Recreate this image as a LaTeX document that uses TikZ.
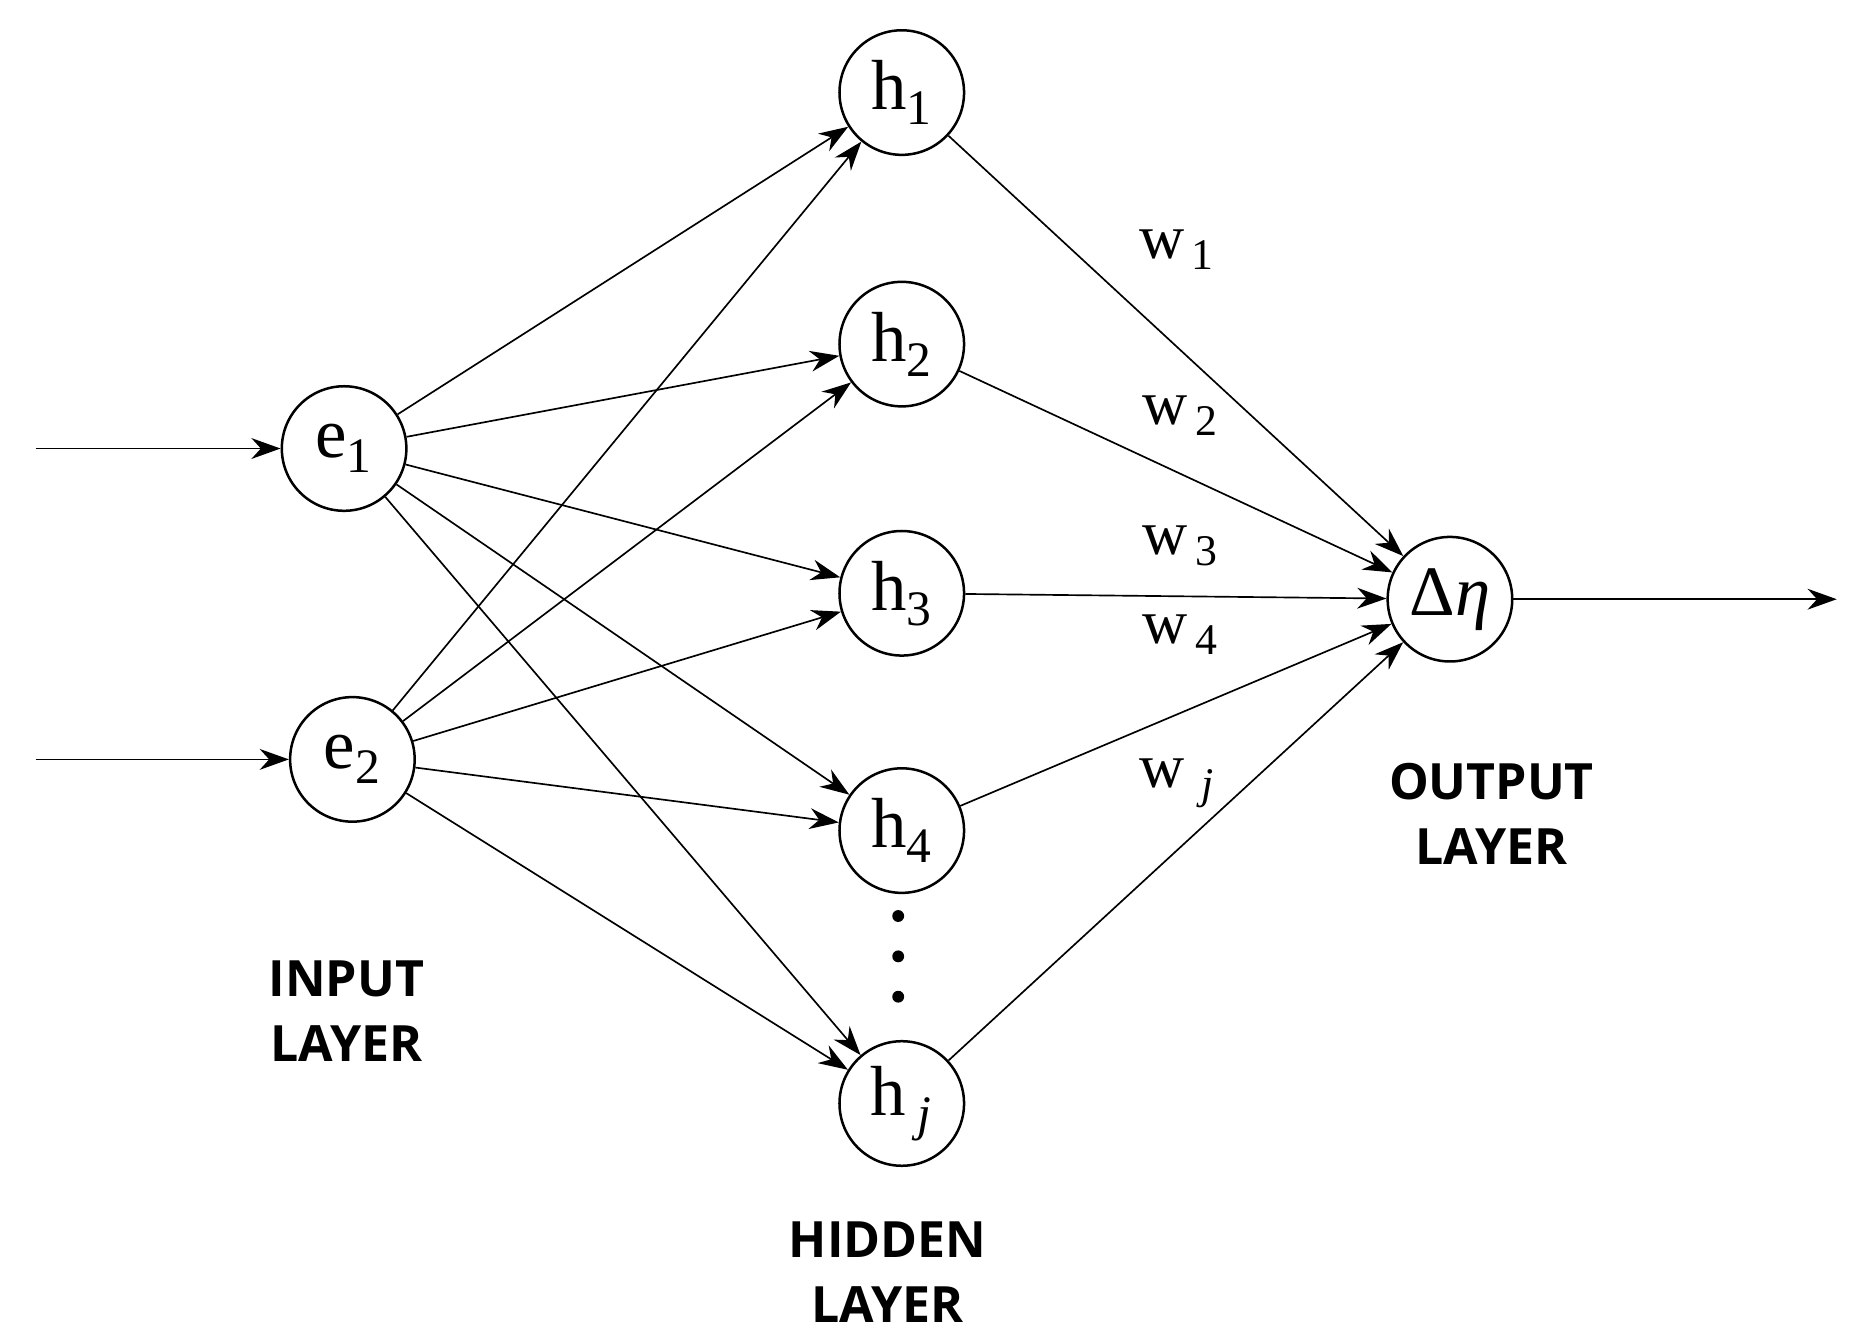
\documentclass[tikz,border=0pt]{standalone}
\usepackage{fontspec}
\setmainfont{Liberation Serif}
\newfontfamily\lbl{Open Sans}
\usetikzlibrary{arrows.meta}
\begin{document}
\begin{tikzpicture}[x=0.02cm,y=-0.02cm,
  neu/.style={circle,draw,line width=1.2pt,minimum size=2.1cm,inner sep=0pt,font=\fontsize{34}{36}\selectfont},
  con/.style={line width=0.8pt,-{Stealth[length=14pt,width=10pt]}},
  lay/.style={font=\lbl\bfseries\fontsize{24}{31}\selectfont,align=center},
  wl/.style={font=\fontsize{30}{32}\selectfont}]
\useasboundingbox (0,0) rectangle (1560,1130);
\node[neu] (e1) at (290,378) {e\textsubscript{1}};
\node[neu] (e2) at (297,640) {e\textsubscript{2}};
\node[neu] (h1) at (760,78) {h\textsubscript{1}};
\node[neu] (h2) at (760,290) {h\textsubscript{2}};
\node[neu] (h3) at (760,500) {h\textsubscript{3}};
\node[neu] (h4) at (760,700) {h\textsubscript{4}};
\node[neu] (hj) at (760,930) {h\,\textsubscript{\textit{j}}};
\node[neu] (o) at (1222,505) {Δ\textit{η}};
\coordinate (i1) at (30,378);
\coordinate (i2) at (30,640);
\coordinate (out) at (1548,505);
\draw[con] (i1) -- (e1);
\draw[con] (i2) -- (e2);
\draw[con] (o) -- (out);
\foreach \e in {e1,e2}{\foreach \h in {h1,h2,h3,h4,hj}{\draw[con] (\e) -- (\h);}}
\foreach \h in {h1,h2,h3,h4,hj}{\draw[con] (\h) -- (o);}
\foreach \y in {772,806,840}{\fill (757,\y) circle (5);}
\node[wl] at (992,210) {w\textsubscript{\,1}};
\node[wl] at (995,350) {w\textsubscript{\,2}};
\node[wl] at (995,460) {w\textsubscript{\,3}};
\node[wl] at (995,535) {w\textsubscript{\,4}};
\node[wl] at (992,660) {w\,\textsubscript{\,\textit{j}}};
\node[lay] at (292,852) {INPUT\\LAYER};
\node[lay] at (748,1072) {HIDDEN\\LAYER};
\node[lay] at (1257,686) {OUTPUT\\LAYER};
\end{tikzpicture}
\end{document}
